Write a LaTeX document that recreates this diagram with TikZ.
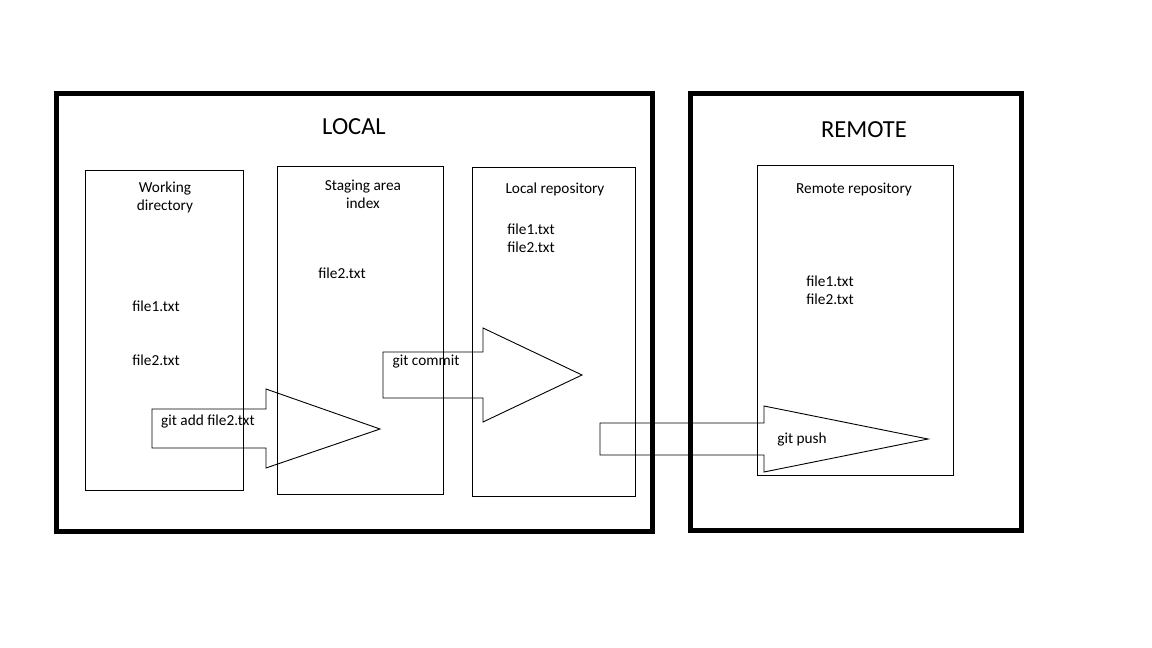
\documentclass[tikz,border=0pt]{standalone}
\usepackage{fontspec}
\setmainfont{Carlito}
\begin{document}
\begin{tikzpicture}[x=1pt,y=-1pt,
  outerbox/.style={draw=black,line width=5pt},
  innerbox/.style={draw=black,line width=1pt},
  blockarrow/.style={draw=black,line width=0.9pt,line join=miter},
  txt/.style={font=\fontsize{15.3}{18}\selectfont,inner sep=0pt,align=center},
  title/.style={font=\fontsize{24.5}{28}\selectfont,inner sep=0pt}]
\useasboundingbox[fill=white] (0,0) rectangle (1152,648);
% outer frames
\draw[outerbox] (56,93) rectangle (652,531);
\draw[outerbox] (690,93) rectangle (1021,530);
\node[title] (local) at (354,127) {LOCAL};
\node[title] (remote) at (864,130) {REMOTE};
% inner boxes
\draw[innerbox] (85,170) rectangle (243,490);
\draw[innerbox] (277,166) rectangle (443,494);
\draw[innerbox] (472,167) rectangle (635,496);
\draw[innerbox] (757,165) rectangle (953,475);
% texts
\node[txt] (wd) at (165,197) {Working\\directory};
\node[txt] (wf1) at (156,306) {file1.txt};
\node[txt] (wf2) at (156,360) {file2.txt};
\node[txt] (sa) at (363,194) {Staging area\\index};
\node[txt] (sf2) at (342,273) {file2.txt};
\node[txt] (lr) at (555,189) {Local repository};
\node[txt] (lf1) at (531,229) {file1.txt};
\node[txt] (lf2) at (531,247) {file2.txt};
\node[txt] (rr) at (854,189) {Remote repository};
\node[txt] (rf1) at (830,281) {file1.txt};
\node[txt] (rf2) at (830,299) {file2.txt};
% block arrows
\draw[blockarrow] (152,409) -- (266,409) -- (266,389) -- (380,429) -- (266,468) -- (266,448) -- (152,448) -- cycle;
\node[txt] (gadd) at (208,421) {git add file2.txt};
\draw[blockarrow] (383,352) -- (483,352) -- (483,328) -- (582,375) -- (483,422) -- (483,398) -- (383,398) -- cycle;
\node[txt] (gcommit) at (426,362) {git commit};
\draw[blockarrow] (600,423) -- (764,423) -- (764,406) -- (928,439) -- (764,472) -- (764,455) -- (600,455) -- cycle;
\node[txt] (gpush) at (802,439) {git push};
\end{tikzpicture}
\end{document}
